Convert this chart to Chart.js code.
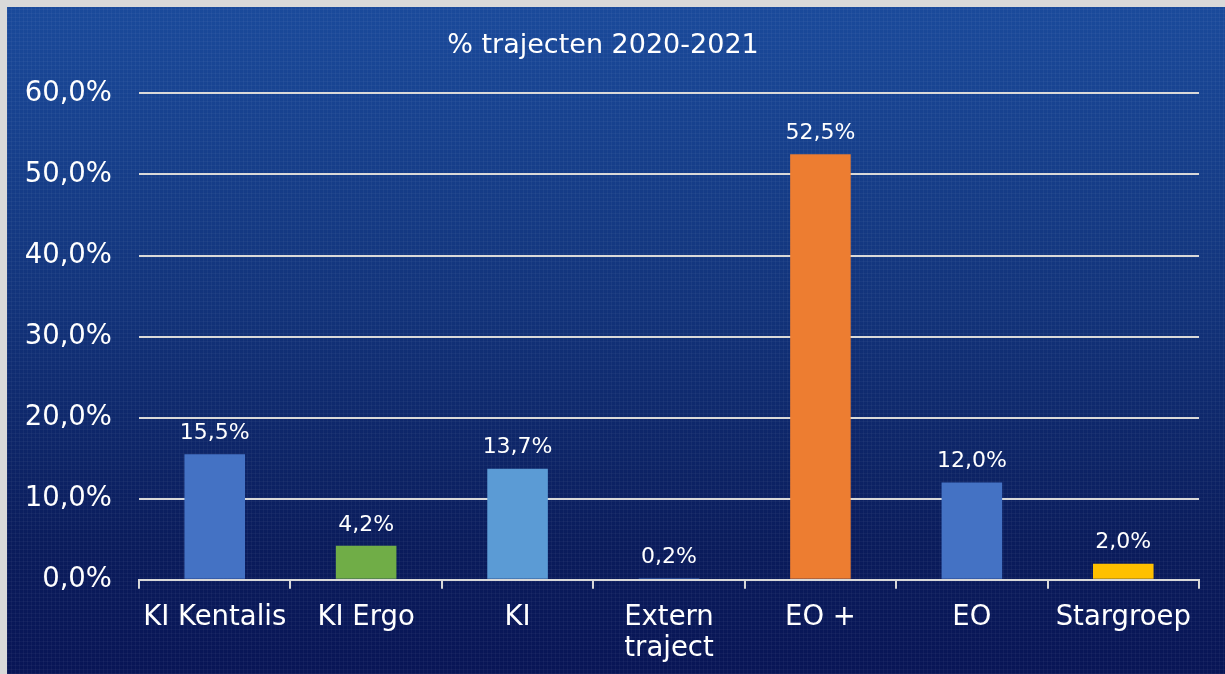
<!DOCTYPE html>
<html>
<head>
<meta charset="utf-8">
<script src="https://cdn.jsdelivr.net/npm/chart.js@4/dist/chart.umd.min.js"></script>
<style>
    html, body { margin: 0; padding: 0; background: #d9d9d9; }
    body { width: 1225px; height: 674px; overflow: hidden; }
    #wrap {
        position: absolute; left: 7px; top: 7px; width: 1218px; height: 667px;
        background:
            repeating-linear-gradient(90deg, rgba(255,255,255,0.035) 0 1px, rgba(0,0,0,0) 1px 4px),
            repeating-linear-gradient(0deg, rgba(255,255,255,0.035) 0 1px, rgba(0,0,0,0) 1px 4px),
            linear-gradient(180deg, #1a4a9b 0%, #12337a 45%, #0a1c5c 80%, #081556 100%);
    }
</style>
</head>
<body>
<div id="wrap"><canvas id="chart" width="1218" height="667"></canvas></div>
<script>
// % trajecten 2020-2021
const categories = ['KI Kentalis', 'KI Ergo', 'KI', ['Extern', 'traject'], 'EO +', 'EO', 'Stargroep'];
const percentages = [15.5, 4.2, 13.7, 0.2, 52.5, 12.0, 2.0];
const barColors = ['#4472C4', '#70AD47', '#5B9BD5', '#4472C4', '#ED7D31', '#4472C4', '#FFC000'];

const fmt = v => v.toFixed(1).replace('.', ',') + '%';
const FONT = "'DejaVu Sans', Verdana, sans-serif";

// draw value labels above bars
const barLabels = {
    id: 'barLabels',
    afterDatasetsDraw(chart) {
        const ctx = chart.ctx;
        const meta = chart.getDatasetMeta(0);
        ctx.save();
        ctx.font = '22px ' + FONT;
        ctx.fillStyle = '#ffffff';
        ctx.textAlign = 'center';
        ctx.textBaseline = 'bottom';
        meta.data.forEach((bar, i) => {
            ctx.fillText(fmt(percentages[i]), bar.x, bar.y - 10);
        });
        ctx.restore();
    }
};

new Chart(document.getElementById('chart'), {
    type: 'bar',
    data: {
        labels: categories,
        datasets: [{
            data: percentages,
            backgroundColor: barColors,
            borderWidth: 0,
            barPercentage: 0.4,
            categoryPercentage: 1.0
        }]
    },
    options: {
        responsive: false,
        animation: false,
        layout: { padding: { left: 0, right: 26, top: 0, bottom: -3 } },
        plugins: {
            legend: { display: false },
            tooltip: { enabled: false },
            title: {
                display: true,
                text: '% trajecten 2020-2021',
                color: '#ffffff',
                font: { family: FONT, size: 27, weight: 'normal' },
                padding: { top: 23, bottom: 31 }
            }
        },
        scales: {
            x: {
                grid: {
                    offset: true,
                    drawOnChartArea: false,
                    drawTicks: true,
                    tickLength: 9,
                    color: '#d9d9d9',
                    lineWidth: 2
                },
                border: { color: '#d9d9d9', width: 2 },
                ticks: {
                    color: '#ffffff',
                    font: { family: FONT, size: 27.5, lineHeight: 1.13 },
                    padding: 13,
                    maxRotation: 0,
                    autoSkip: false
                }
            },
            y: {
                min: 0,
                max: 60,
                afterFit(scale) { scale.width = 132; },
                grid: { color: '#d9d9d9', lineWidth: 2, drawTicks: false },
                border: { display: false },
                ticks: {
                    stepSize: 10,
                    color: '#ffffff',
                    font: { family: FONT, size: 27.5 },
                    padding: 27,
                    callback: v => fmt(v)
                }
            }
        }
    },
    plugins: [barLabels]
});
</script>
</body>
</html>
